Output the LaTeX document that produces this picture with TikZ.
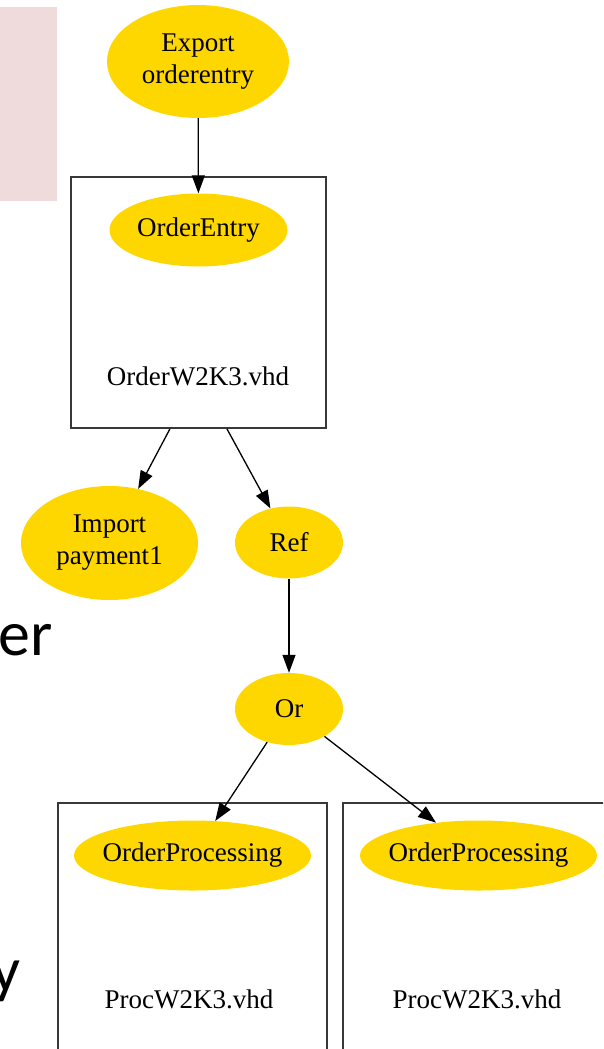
\documentclass[tikz,border=0pt]{standalone}
\usepackage{fontspec}
\setmainfont{Liberation Serif}
\newfontfamily\slidefont{Carlito}
\usetikzlibrary{shapes.geometric,arrows.meta}
\definecolor{nodegold}{HTML}{FFD700}
\definecolor{slidepink}{HTML}{EFDBDB}
\definecolor{framegray}{HTML}{383838}

\begin{document}
\begin{tikzpicture}[x=1pt,y=-1pt,
  every node/.style={font=\fontsize{27}{32}\selectfont},
  blob/.style={ellipse, fill=nodegold, inner sep=0pt, align=center},
  clusterbox/.style={draw=framegray, line width=1.8pt, inner sep=0pt},
  filelabel/.style={anchor=base, inner sep=0pt},
  slidetext/.style={font=\slidefont\fontsize{64}{70}\selectfont, anchor=base east, inner sep=0pt},
  edge/.style={draw=black, line width=1.3pt, -{Triangle[length=18pt,width=13pt]}},
]
\useasboundingbox (0,0) rectangle (603,1049);
\clip (0,0) rectangle (603,1049);

% slide background pieces
\fill[slidepink] (0,7) rectangle (57,201);
\node[slidetext] (er) at (53,655) {er};
\node[slidetext] (ytail) at (21,991) {y};

% cluster frames
\node[clusterbox, minimum width=255pt, minimum height=251pt] (box1) at (198.5,302.5) {};
\node[clusterbox, minimum width=269pt, minimum height=267pt] (box2) at (192.5,936.5) {};
\node[clusterbox, minimum width=277pt, minimum height=267pt] (box3) at (481.5,936.5) {};

% file names inside the frames
\node[filelabel] (ofile) at (198,385) {OrderW2K3.vhd};
\node[filelabel] (pfile1) at (189,1008) {ProcW2K3.vhd};
\node[filelabel] (pfile2) at (477,1008) {ProcW2K3.vhd};

% graph nodes
\node[blob, minimum width=182pt, minimum height=113pt] (exp) at (198,61.5) {Export\\orderentry};
\node[blob, minimum width=178pt, minimum height=73pt] (oe) at (198.5,230) {OrderEntry};
\node[blob, minimum width=177pt, minimum height=114pt] (imp) at (109.5,543) {Import\\payment1};
\node[blob, minimum width=108pt, minimum height=72pt] (ref) at (289,542.5) {Ref};
\node[blob, minimum width=108pt, minimum height=72pt] (orn) at (289,709) {Or};
\node[blob, inner xsep=-12pt, minimum width=237pt, minimum height=70pt] (op1) at (192.5,855.5) {OrderProcessing};
\node[blob, inner xsep=-12pt, minimum width=237pt, minimum height=70pt] (op2) at (478.5,855.5) {OrderProcessing};

% connectors
\draw[edge] (exp) -- (oe);
\draw[edge] (intersection of ofile--imp and box1.south west--box1.south east) -- (imp);
\draw[edge] (intersection of ofile--ref and box1.south west--box1.south east) -- (ref);
\draw[edge] (ref) -- (orn);
\draw[edge] (orn) -- (op1);
\draw[edge] (orn) -- (op2);
\end{tikzpicture}
\end{document}
